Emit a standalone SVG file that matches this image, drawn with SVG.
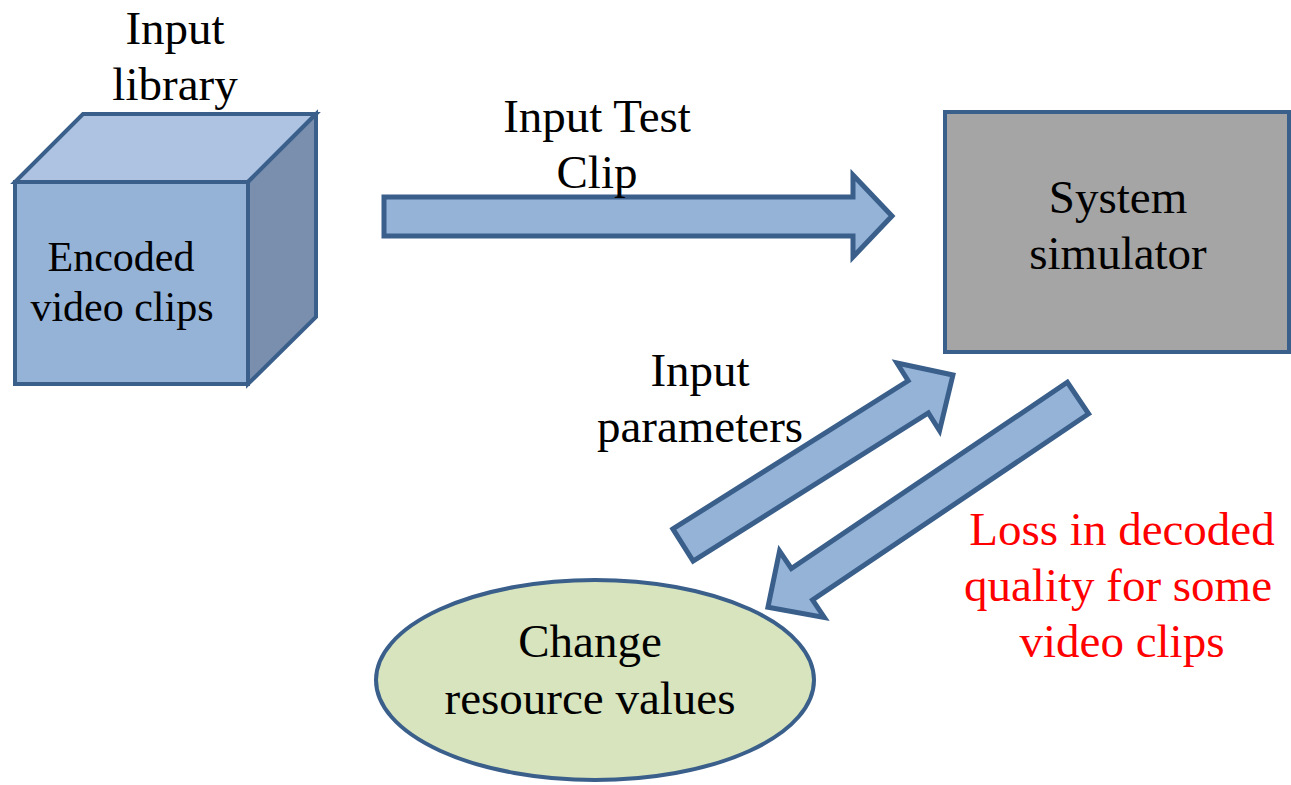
<svg xmlns="http://www.w3.org/2000/svg" width="1291" height="785" viewBox="0 0 1291 785">
<style>
.t{font-family:"Liberation Serif","Times New Roman",serif;font-size:47px;fill:#000;text-anchor:middle}
.s{font-size:42px}
.red{fill:#ff0000}
.edge{stroke:#3a5f8b;stroke-width:4;stroke-linejoin:miter}
.arrow{fill:#95b3d7;stroke:#3a5f8b;stroke-width:5;stroke-linejoin:miter}
</style>
<rect width="1291" height="785" fill="#fff"/>
<g id="library">
<polygon class="edge" points="15,182 83,114 316,114 248,182" fill="#adc3e1"/>
<polygon class="edge" points="248,182 316,114 316,317 248,384" fill="#7a8fad"/>
<rect class="edge" x="15" y="182" width="233" height="202" fill="#95b3d7"/>
<text class="t s" x="121" y="271">Encoded</text>
<text class="t s" x="122" y="321">video clips</text>
</g>
<g id="library-label">
<text class="t" x="175" y="44">Input</text>
<text class="t" x="175" y="100">library</text>
</g>
<g id="simulator">
<rect class="edge" x="945" y="112" width="344" height="240" fill="#a5a5a5"/>
<text class="t" x="1118" y="213">System</text>
<text class="t" x="1118" y="269">simulator</text>
</g>
<g id="change">
<ellipse class="edge" cx="595" cy="680" rx="219" ry="100" fill="#d7e4bd"/>
<text class="t" x="590" y="657">Change</text>
<text class="t" x="590" y="714">resource values</text>
</g>
<g id="connectors">
<polygon class="arrow" points="384,197 853,197 853,175 892,216 853,257 853,236 384,236"/>
<polygon class="arrow" transform="translate(683,545) rotate(-32.2)" points="0,-19 278,-19 278,-40 319,0 278,40 278,19 0,19"/>
<polygon class="arrow" transform="translate(1078,398) rotate(146)" points="0,-19 333,-19 333,-40 374,0 333,40 333,19 0,19"/>
</g>
<g id="labels">
<text class="t" x="597" y="132">Input Test</text>
<text class="t" x="597" y="188">Clip</text>
<text class="t" x="700" y="386">Input</text>
<text class="t" x="700" y="442">parameters</text>
<text class="t red" x="1122" y="545">Loss in decoded</text>
<text class="t red" x="1118" y="601">quality for some</text>
<text class="t red" x="1122" y="657">video clips</text>
</g>
</svg>
